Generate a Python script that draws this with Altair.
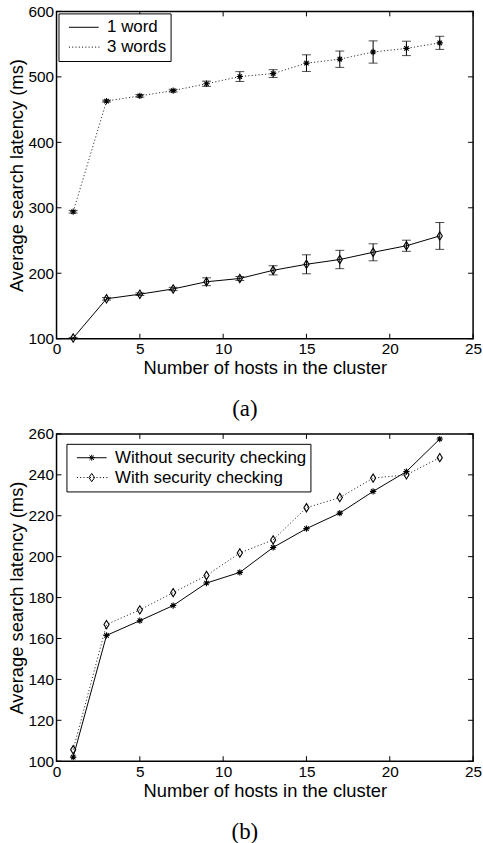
import altair as alt
import pandas as pd

# ---------------- data ----------------
hosts = [1, 3, 5, 7, 9, 11, 13, 15, 17, 19, 21, 23]

series_a = ["1 word", "3 words"]
word1 = [101, 161, 168, 176, 187, 192, 204.5, 213.7, 221, 232, 242, 257]
word1_err = [1, 2, 2, 2.5, 6, 3, 7, 14.5, 14, 13, 8.5, 20.5]
word3 = [294, 463, 471, 479, 489.5, 500.5, 505, 521, 527, 538, 543.5, 552]
word3_err = [2, 1.5, 2, 2, 4, 7.5, 6, 12.7, 12.5, 17, 11, 10]

series_b = ["Without security checking", "With security checking"]
no_sec = [102, 161.5, 168.7, 176.1, 187.1, 192.3, 204.5, 213.7, 221.3, 231.9, 241.6, 257.5]
with_sec = [105.6, 166.8, 174, 182.4, 190.8, 201.8, 208.2, 223.9, 228.9, 238.4, 240, 248.4]

x_ticks = [0, 5, 10, 15, 20, 25]
y_ticks_a = [100, 200, 300, 400, 500, 600]
y_ticks_b = [100, 120, 140, 160, 180, 200, 220, 240, 260]

x_title = "Number of hosts in the cluster"
y_title = "Average search latency (ms)"
captions = ["(a)", "(b)"]

# ---------------- styles ----------------
W, H = 420, 330
DIAMOND = "M0,-1L0.62,0L0,1L-0.62,0Z"
STAR = "M-1,0L1,0M0,-1L0,1M-0.7,-0.7L0.7,0.7M-0.7,0.7L0.7,-0.7"
LINE = "M-1,0L1,0"
DOTS = "".join("M%.3f,0L%.3f,0" % (-1 + i * 0.22, -1 + i * 0.22 + 0.07) for i in range(10))
LEG_STAR = LINE + "M0,-0.2L0,0.2M-0.15,-0.15L0.15,0.15M-0.15,0.15L0.15,-0.15M-0.2,0L0.2,0"
LEG_DIAM = DOTS + "M0,-0.28L0.19,0L0,0.28L-0.19,0Z"
DOT_DASH = [1.2, 2.2]

df_a = pd.DataFrame({
    "hosts": hosts * 2,
    "latency": word1 + word3,
    "err": word1_err + word3_err,
    "series": [series_a[0]] * len(hosts) + [series_a[1]] * len(hosts),
})
df_a["lo"] = df_a["latency"] - df_a["err"]
df_a["hi"] = df_a["latency"] + df_a["err"]

df_b = pd.DataFrame({
    "hosts": hosts * 2,
    "latency": no_sec + with_sec,
    "series": [series_b[0]] * len(hosts) + [series_b[1]] * len(hosts),
})


def make_panel(df, series, ydomain, yticks, shapes, leg_paths, dashes, caption,
               leg_offset, errors):
    xs = alt.Scale(domain=[0, 25], nice=False, zero=False)
    ys = alt.Scale(domain=ydomain, nice=False, zero=False)
    xax = alt.Axis(values=x_ticks, title=x_title, labelFlush=False, ticks=False,
                   domain=False, grid=False, labelPadding=3, titlePadding=2)
    yax = alt.Axis(values=yticks, title=y_title, labelFlush=False, ticks=False,
                   domain=False, grid=False, labelPadding=3, titlePadding=1)
    X = alt.X("hosts:Q", scale=xs, axis=xax, title=x_title)
    Y = alt.Y("latency:Q", scale=ys, axis=yax, title=y_title)

    xt = pd.DataFrame({"hosts": x_ticks})
    yt = pd.DataFrame({"latency": yticks})
    ticks = [
        alt.Chart(xt).mark_rule(color="black", strokeWidth=1).encode(
            x=X, y=alt.value(H), y2=alt.value(H - 5)),
        alt.Chart(xt).mark_rule(color="black", strokeWidth=1).encode(
            x=X, y=alt.value(0), y2=alt.value(5)),
        alt.Chart(yt).mark_rule(color="black", strokeWidth=1).encode(
            y=Y, x=alt.value(0), x2=alt.value(5)),
        alt.Chart(yt).mark_rule(color="black", strokeWidth=1).encode(
            y=Y, x=alt.value(W), x2=alt.value(W - 5)),
    ]

    layers = list(ticks)
    base = alt.Chart(df)
    for s, shp, dash in zip(series, shapes, dashes):
        sub = base.transform_filter(alt.datum.series == s)
        line_kw = dict(color="black", strokeWidth=1)
        if dash is not None:
            line_kw["strokeDash"] = dash
            line_kw["color"] = "#333333"
        layers.append(sub.mark_line(**line_kw).encode(x=X, y=Y))
        if errors:
            layers.append(sub.mark_rule(color="black", strokeWidth=1).encode(
                x=X, y=alt.Y("lo:Q", scale=ys, axis=yax, title=y_title), y2="hi:Q"))
            layers.append(sub.mark_tick(color="black", orient="horizontal", size=9,
                                        thickness=1).encode(
                x=X, y=alt.Y("lo:Q", scale=ys, axis=yax, title=y_title)))
            layers.append(sub.mark_tick(color="black", orient="horizontal", size=9,
                                        thickness=1).encode(
                x=X, y=alt.Y("hi:Q", scale=ys, axis=yax, title=y_title)))
        size = 70 if shp == DIAMOND else 40
        layers.append(sub.mark_point(shape=shp, size=size, color="black", filled=False,
                                     strokeWidth=1.1, opacity=1).encode(x=X, y=Y))

    legend_layer = base.mark_point(opacity=0, color="black", filled=False).encode(
        x=X, y=Y,
        shape=alt.Shape("series:N", scale=alt.Scale(domain=series, range=leg_paths),
                        legend=alt.Legend(title=None, orient="top-left", offset=leg_offset)),
    )
    layers.append(legend_layer)

    return alt.layer(*layers).properties(
        width=W, height=H,
        title=alt.TitleParams(text=caption, orient="bottom", anchor="middle",
                              frame="bounds", font="Liberation Serif", fontSize=23,
                              fontWeight="normal", color="black", offset=21),
    )


panel_a = make_panel(df_a, series_a, [100, 600], y_ticks_a, [DIAMOND, STAR],
                     [LINE, DOTS], [None, DOT_DASH], captions[0], 2, True)
panel_b = make_panel(df_b, series_b, [100, 260], y_ticks_b, [STAR, DIAMOND],
                     [LEG_STAR, LEG_DIAM], [None, DOT_DASH], captions[1], 10, False)

chart = alt.vconcat(panel_a, panel_b, spacing=4).resolve_scale(
    shape="independent").resolve_legend(shape="independent").properties(
    padding={"left": 7, "top": 0, "right": 0, "bottom": 0},
    background="white",
).configure_view(stroke="black", strokeWidth=1.5).configure_axis(
    labelFont="Liberation Sans", labelFontSize=15.5, labelColor="black",
    titleFont="Liberation Sans", titleFontSize=18.5, titleFontWeight="normal",
    titleColor="black",
).configure_legend(
    symbolOpacity=1, symbolStrokeColor="black", symbolStrokeWidth=1, symbolSize=900,
    labelFont="Liberation Sans", labelFontSize=17, labelColor="black", labelLimit=400,
    strokeColor="black", fillColor="white", padding=4, clipHeight=20, rowPadding=0,
    symbolOffset=6, labelOffset=8,
)

chart.save("out.html", embed_options={"renderer": "svg", "actions": False})
